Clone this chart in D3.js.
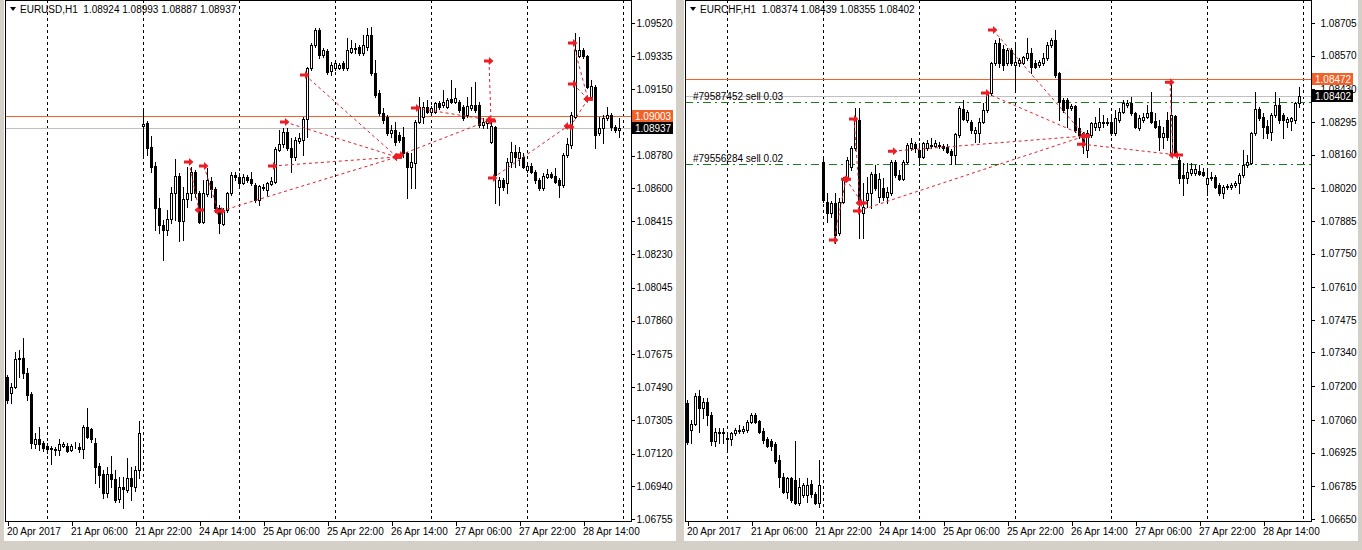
<!DOCTYPE html>
<html><head><meta charset="utf-8">
<script src="https://cdn.jsdelivr.net/npm/d3@7/dist/d3.min.js"></script>
<style>
html,body{margin:0;padding:0;background:#d4d0c8;overflow:hidden;}
svg{display:block;font-family:"Liberation Sans",Arial,sans-serif;}
</style></head><body>
<svg id="c" width="1362" height="550"></svg>
<script>
// ---------- data ----------
const timeLabels = ["20 Apr 2017","21 Apr 06:00","21 Apr 22:00","24 Apr 14:00","25 Apr 06:00","25 Apr 22:00","26 Apr 14:00","27 Apr 06:00","27 Apr 22:00","28 Apr 14:00"];
const timeLabelBars = [0,16,32,48,64,80,96,112,128,144];
const daySeparatorBars = [10,34,58,82,106,130,154];

const eurusdTicks = ["1.09520","1.09335","1.09150","1.08965","1.08780","1.08600","1.08415","1.08230","1.08045","1.07860","1.07675","1.07490","1.07305","1.07120","1.06940","1.06755"];
const eurchfTicks = ["1.08705","1.08570","1.08430","1.08295","1.08160","1.08020","1.07885","1.07750","1.07610","1.07475","1.07340","1.07200","1.07060","1.06925","1.06785","1.06650"];

// OHLC per hourly bar
const eurusdBars = [
[1.07546,1.07557,1.07401,1.07418],[1.07457,1.07513,1.07401,1.07491],[1.07491,1.07686,1.07485,1.07647],[1.07647,1.07697,1.07546,1.07652],
[1.07652,1.07764,1.07541,1.07569],[1.07569,1.07596,1.07418,1.07446],[1.07451,1.07463,1.07150,1.07178],[1.07173,1.07234,1.07150,1.07201],
[1.07201,1.07268,1.07139,1.07173],[1.07178,1.07189,1.07134,1.07150],[1.07162,1.07178,1.07123,1.07145],[1.07150,1.07162,1.07061,1.07145],
[1.07145,1.07156,1.07111,1.07139],[1.07139,1.07201,1.07111,1.07173],[1.07162,1.07184,1.07156,1.07173],[1.07162,1.07178,1.07128,1.07134],
[1.07139,1.07173,1.07134,1.07162],[1.07156,1.07184,1.07150,1.07158],[1.07156,1.07178,1.07128,1.07145],[1.07145,1.07279,1.07095,1.07268],
[1.07268,1.07373,1.07206,1.07212],[1.07256,1.07262,1.07184,1.07201],[1.07178,1.07206,1.06955,1.07044],[1.07050,1.07067,1.06933,1.07000],
[1.07005,1.07028,1.06872,1.06900],[1.06900,1.07044,1.06877,1.07005],[1.07005,1.07106,1.06933,1.06978],[1.06978,1.07028,1.06849,1.06861],
[1.06866,1.06989,1.06849,1.06933],[1.06933,1.06989,1.06816,1.06922],[1.06916,1.07095,1.06905,1.06983],[1.06983,1.07044,1.06861,1.06939],
[1.06933,1.07050,1.06911,1.07028],[1.07028,1.07301,1.06983,1.07234],
[1.08946,1.09040,1.08784,1.08957],[1.08962,1.08973,1.08784,1.08823],[1.08828,1.08890,1.08689,1.08717],[1.08723,1.08745,1.08366,1.08488],
[1.08488,1.08544,1.08349,1.08394],[1.08394,1.08422,1.08199,1.08366],[1.08366,1.08477,1.08338,1.08427],[1.08427,1.08605,1.08405,1.08572],
[1.08572,1.08762,1.08422,1.08667],[1.08667,1.08684,1.08304,1.08416],[1.08416,1.08605,1.08310,1.08539],[1.08539,1.08717,1.08494,1.08572],
[1.08572,1.08717,1.08533,1.08689],[1.08689,1.08700,1.08550,1.08572],[1.08572,1.08583,1.08405,1.08410],[1.08410,1.08645,1.08405,1.08572],
[1.08566,1.08711,1.08555,1.08645],[1.08639,1.08661,1.08550,1.08594],[1.08594,1.08605,1.08466,1.08488],[1.08488,1.08505,1.08349,1.08405],
[1.08399,1.08488,1.08394,1.08477],[1.08477,1.08578,1.08466,1.08572],[1.08572,1.08689,1.08561,1.08672],[1.08672,1.08689,1.08645,1.08661],
[1.08661,1.08684,1.08617,1.08628],[1.08628,1.08678,1.08622,1.08661],[1.08661,1.08672,1.08633,1.08645],[1.08650,1.08689,1.08617,1.08628],
[1.08617,1.08628,1.08522,1.08533],[1.08533,1.08617,1.08505,1.08611],[1.08605,1.08622,1.08589,1.08600],[1.08589,1.08633,1.08561,1.08628],
[1.08622,1.08661,1.08617,1.08639],[1.08633,1.08828,1.08628,1.08817],[1.08812,1.08923,1.08806,1.08845],[1.08845,1.08934,1.08828,1.08912],
[1.08912,1.08934,1.08812,1.08823],[1.08823,1.08879,1.08689,1.08773],[1.08773,1.08884,1.08756,1.08868],[1.08862,1.08907,1.08851,1.08879],
[1.08868,1.08996,1.08784,1.08985],[1.08985,1.09275,1.08884,1.09269],[1.09269,1.09408,1.09258,1.09397],[1.09397,1.09492,1.09386,1.09481],
[1.09481,1.09492,1.09325,1.09341],[1.09341,1.09380,1.09330,1.09369],[1.09364,1.09375,1.09235,1.09247],[1.09252,1.09302,1.09230,1.09286],
[1.09269,1.09302,1.09258,1.09297],[1.09269,1.09297,1.09263,1.09286],[1.09297,1.09308,1.09258,1.09269],[1.09269,1.09436,1.09258,1.09369],
[1.09358,1.09425,1.09353,1.09380],[1.09380,1.09408,1.09353,1.09375],[1.09386,1.09397,1.09341,1.09353],[1.09353,1.09453,1.09341,1.09397],
[1.09386,1.09492,1.09369,1.09453],[1.09453,1.09497,1.09230,1.09241],[1.09241,1.09314,1.09107,1.09118],[1.09130,1.09146,1.09007,1.09018],
[1.09018,1.09046,1.08962,1.08979],[1.08996,1.09007,1.08895,1.08907],[1.08907,1.08951,1.08884,1.08923],[1.08923,1.08968,1.08840,1.08856],
[1.08895,1.08912,1.08856,1.08868],[1.08884,1.08940,1.08773,1.08795],[1.08795,1.08801,1.08544,1.08717],[1.08717,1.08795,1.08600,1.08745],
[1.08739,1.08979,1.08600,1.08968],[1.08968,1.09107,1.08962,1.09051],[1.08996,1.09079,1.08962,1.09051],[1.09051,1.09091,1.09018,1.09024],
[1.09024,1.09057,1.09018,1.09046],[1.09024,1.09079,1.09018,1.09074],[1.09074,1.09085,1.09040,1.09051],[1.09063,1.09146,1.09051,1.09079],
[1.09051,1.09102,1.09046,1.09091],[1.09096,1.09202,1.09074,1.09079],[1.09079,1.09157,1.09074,1.09102],[1.09079,1.09091,1.09024,1.09035],
[1.09051,1.09063,1.08979,1.08990],[1.09007,1.09107,1.08996,1.09057],[1.09046,1.09163,1.09035,1.09063],[1.09063,1.09191,1.09024,1.09035],
[1.09063,1.09079,1.08940,1.08951],[1.08951,1.08990,1.08934,1.08968],[1.08962,1.08985,1.08934,1.08979],[1.08856,1.08979,1.08851,1.08946],
[1.08940,1.08946,1.08516,1.08672],[1.08605,1.08661,1.08505,1.08645],[1.08645,1.08656,1.08589,1.08605],[1.08628,1.08767,1.08572,1.08745],
[1.08745,1.08856,1.08717,1.08801],[1.08801,1.08840,1.08717,1.08773],[1.08767,1.08828,1.08728,1.08801],[1.08773,1.08795,1.08711,1.08717],
[1.08700,1.08739,1.08689,1.08723],[1.08723,1.08739,1.08684,1.08689],[1.08689,1.08700,1.08628,1.08645],[1.08645,1.08656,1.08589,1.08600],
[1.08600,1.08684,1.08589,1.08667],[1.08661,1.08706,1.08656,1.08678],[1.08678,1.08689,1.08656,1.08661],[1.08667,1.08711,1.08628,1.08633],
[1.08645,1.08656,1.08550,1.08617],[1.08617,1.08795,1.08605,1.08784],[1.08784,1.08879,1.08773,1.08845],[1.08840,1.09024,1.08823,1.09007],
[1.08996,1.09464,1.08990,1.09369],[1.09336,1.09442,1.09330,1.09369],[1.09369,1.09380,1.09325,1.09336],[1.09336,1.09341,1.09157,1.09163],
[1.09107,1.09202,1.09102,1.09169],[1.09163,1.09174,1.08823,1.08895],[1.08907,1.08996,1.08895,1.08934],[1.08934,1.09007,1.08851,1.08990],
[1.08990,1.09051,1.08979,1.09007],[1.09007,1.09018,1.08923,1.08940],[1.08940,1.08951,1.08912,1.08923],[1.08924,1.08993,1.08887,1.08937]
];

const eurchfBars = [
[1.07130,1.07143,1.06961,1.06969],[1.07019,1.07060,1.06965,1.07043],[1.07043,1.07172,1.07039,1.07159],[1.07159,1.07184,1.07010,1.07110],
[1.07110,1.07151,1.07068,1.07135],[1.07135,1.07151,1.07039,1.07081],[1.07081,1.07093,1.06956,1.06973],[1.06973,1.07027,1.06952,1.07010],
[1.07006,1.07027,1.06965,1.07010],[1.07010,1.07027,1.06965,1.07006],[1.06985,1.07006,1.06940,1.06981],[1.06981,1.07010,1.06956,1.07006],
[1.07006,1.07027,1.06998,1.07019],[1.07019,1.07039,1.07006,1.07014],[1.07014,1.07035,1.07006,1.07023],[1.07019,1.07060,1.07010,1.07052],
[1.07052,1.07089,1.07048,1.07081],[1.07081,1.07089,1.07048,1.07052],[1.07056,1.07060,1.07006,1.07010],[1.07014,1.07027,1.06965,1.06977],
[1.06981,1.06990,1.06948,1.06952],[1.06973,1.06981,1.06936,1.06952],[1.06961,1.06969,1.06882,1.06890],[1.06894,1.06915,1.06782,1.06824],
[1.06824,1.06840,1.06757,1.06762],[1.06762,1.06824,1.06737,1.06820],[1.06820,1.06824,1.06720,1.06728],[1.06811,1.06973,1.06712,1.06716],
[1.06716,1.06820,1.06708,1.06782],[1.06749,1.06799,1.06741,1.06791],[1.06749,1.06820,1.06720,1.06791],[1.06795,1.06811,1.06741,1.06753],
[1.06753,1.06762,1.06712,1.06716],[1.06716,1.06894,1.06699,1.06791],
[1.08129,1.08150,1.07963,1.07971],[1.07963,1.08000,1.07880,1.07918],[1.07918,1.07967,1.07901,1.07959],[1.07959,1.08000,1.07793,1.07826],
[1.07835,1.07980,1.07826,1.07963],[1.07963,1.08067,1.07959,1.08058],[1.08058,1.08150,1.08054,1.08137],[1.08108,1.08195,1.08096,1.08187],
[1.08187,1.08353,1.08179,1.08311],[1.08303,1.08353,1.07814,1.07959],[1.07918,1.08042,1.07814,1.07942],[1.07971,1.08067,1.07942,1.08000],
[1.08000,1.08087,1.07938,1.08079],[1.08079,1.08116,1.08013,1.08021],[1.07984,1.08083,1.07963,1.08058],[1.08021,1.08063,1.07971,1.07984],
[1.07984,1.08025,1.07959,1.08005],[1.08000,1.08137,1.07992,1.08129],[1.08129,1.08137,1.08067,1.08075],[1.08075,1.08096,1.08054,1.08058],
[1.08058,1.08137,1.08054,1.08129],[1.08129,1.08208,1.08125,1.08199],[1.08187,1.08228,1.08179,1.08208],[1.08203,1.08212,1.08170,1.08187],
[1.08179,1.08208,1.08116,1.08150],[1.08150,1.08212,1.08145,1.08208],[1.08187,1.08220,1.08179,1.08208],[1.08195,1.08228,1.08187,1.08199],
[1.08195,1.08220,1.08191,1.08208],[1.08199,1.08212,1.08187,1.08195],[1.08195,1.08203,1.08179,1.08187],[1.08191,1.08203,1.08166,1.08170],
[1.08174,1.08183,1.08121,1.08158],[1.08158,1.08249,1.08121,1.08245],[1.08241,1.08361,1.08232,1.08353],[1.08348,1.08386,1.08303,1.08307],
[1.08303,1.08344,1.08295,1.08336],[1.08295,1.08303,1.08249,1.08261],[1.08249,1.08274,1.08212,1.08261],[1.08249,1.08311,1.08212,1.08295],
[1.08295,1.08373,1.08290,1.08344],[1.08344,1.08419,1.08336,1.08415],[1.08415,1.08543,1.08406,1.08539],[1.08539,1.08634,1.08531,1.08622],
[1.08622,1.08643,1.08522,1.08539],[1.08597,1.08614,1.08510,1.08531],[1.08539,1.08601,1.08531,1.08593],[1.08593,1.08601,1.08531,1.08539],
[1.08531,1.08614,1.08419,1.08543],[1.08539,1.08560,1.08527,1.08551],[1.08539,1.08568,1.08535,1.08564],[1.08560,1.08643,1.08551,1.08580],
[1.08580,1.08601,1.08498,1.08522],[1.08539,1.08551,1.08518,1.08522],[1.08531,1.08551,1.08522,1.08543],[1.08539,1.08580,1.08531,1.08560],
[1.08560,1.08626,1.08551,1.08614],[1.08614,1.08643,1.08605,1.08634],[1.08634,1.08676,1.08481,1.08489],[1.08498,1.08502,1.08303,1.08377],
[1.08386,1.08394,1.08336,1.08344],[1.08386,1.08394,1.08274,1.08353],[1.08353,1.08369,1.08344,1.08361],[1.08361,1.08365,1.08253,1.08261],
[1.08270,1.08311,1.08228,1.08241],[1.08249,1.08253,1.08166,1.08199],[1.08179,1.08261,1.08150,1.08249],[1.08241,1.08295,1.08232,1.08290],
[1.08274,1.08315,1.08261,1.08290],[1.08274,1.08353,1.08261,1.08295],[1.08295,1.08324,1.08274,1.08290],[1.08290,1.08311,1.08282,1.08295],
[1.08295,1.08315,1.08241,1.08249],[1.08249,1.08344,1.08241,1.08311],[1.08303,1.08353,1.08295,1.08336],[1.08336,1.08386,1.08332,1.08373],
[1.08365,1.08386,1.08357,1.08373],[1.08373,1.08398,1.08324,1.08332],[1.08332,1.08336,1.08270,1.08274],[1.08270,1.08324,1.08261,1.08311],
[1.08303,1.08332,1.08295,1.08315],[1.08315,1.08365,1.08311,1.08332],[1.08336,1.08419,1.08290,1.08295],[1.08299,1.08332,1.08270,1.08274],
[1.08278,1.08303,1.08179,1.08232],[1.08232,1.08274,1.08187,1.08249],[1.08303,1.08336,1.08220,1.08232],[1.08166,1.08469,1.08158,1.08324],
[1.08319,1.08324,1.08158,1.08166],[1.08137,1.08150,1.08042,1.08063],[1.08075,1.08125,1.07992,1.08063],[1.08063,1.08125,1.08042,1.08087],
[1.08083,1.08125,1.08075,1.08100],[1.08083,1.08116,1.08075,1.08100],[1.08092,1.08116,1.08075,1.08079],[1.08087,1.08104,1.08071,1.08075],
[1.08038,1.08104,1.07992,1.08063],[1.08063,1.08087,1.08054,1.08067],[1.08067,1.08075,1.08021,1.08025],[1.08034,1.08042,1.07992,1.08000],
[1.08000,1.08034,1.07980,1.08025],[1.08029,1.08038,1.08017,1.08025],[1.08025,1.08042,1.08017,1.08034],[1.08034,1.08050,1.08025,1.08042],
[1.08042,1.08083,1.08000,1.08075],[1.08075,1.08179,1.08067,1.08116],[1.08116,1.08158,1.08108,1.08129],[1.08125,1.08253,1.08121,1.08249],
[1.08249,1.08419,1.08241,1.08348],[1.08348,1.08357,1.08303,1.08311],[1.08315,1.08332,1.08228,1.08274],[1.08278,1.08303,1.08228,1.08249],
[1.08253,1.08332,1.08220,1.08324],[1.08324,1.08419,1.08315,1.08365],[1.08365,1.08394,1.08290,1.08303],[1.08324,1.08332,1.08228,1.08303],
[1.08295,1.08315,1.08274,1.08307],[1.08299,1.08315,1.08261,1.08311],[1.08303,1.08377,1.08290,1.08373],[1.08374,1.08439,1.08355,1.08402]
];

// closed trades: [openBar, openPrice, closeBar, closePrice]
const eurusdTrades = [
[45.5,1.08745,48,1.08477],[49.25,1.08723,52.75,1.08472],[53.5,1.08472,97.5,1.08773],[66.5,1.08723,97.5,1.08773],
[69.5,1.08968,97.5,1.08773],[74.5,1.09230,97.5,1.08773],[98.25,1.08784,120.75,1.08979],[102.25,1.09046,120.75,1.08979],
[120.5,1.09308,121,1.08974],[121.5,1.08656,140.25,1.08946],[141.5,1.09408,145.25,1.09096],[141.5,1.09180,145.25,1.09096],
[140.75,1.08940,145.25,1.09096]
];
const eurchfTrades = [
[36.75,1.07806,39.75,1.08058],[39.75,1.08058,43.75,1.07959],[41.75,1.08307,43.25,1.07959],[42.75,1.07926,99.5,1.08237],
[51.5,1.08174,99.5,1.08237],[74.75,1.08415,99.5,1.08237],[76.5,1.08676,99.5,1.08237],[98.75,1.08203,122.75,1.08158],
[120.75,1.08460,121.5,1.08158]
];

const eurchfOrderLabels = ["#79587452 sell 0.03","#79556284 sell 0.02"];
const eurchfOrderPrices = [1.08377,1.08121];

const eurusdQuote = {name:"EURUSD,H1", ohlc:["1.08924","1.08993","1.08887","1.08937"], level:1.09003, bid:1.08937};
const eurchfQuote = {name:"EURCHF,H1", ohlc:["1.08374","1.08439","1.08355","1.08402"], level:1.08472, bid:1.08402};

// ---------- drawing ----------
const svg = d3.select("#c");
const FONT = 10;

function panel(cfg){
  const g = svg.append("g");
  g.append("rect").attr("x",cfg.winX).attr("y",0).attr("width",cfg.winW).attr("height",cfg.winH).attr("fill","#fff");

  const n = cfg.bars.length;
  const x = d3.scaleLinear().domain([0,n-1]).range([cfg.firstX, cfg.firstX + 4*(n-1)]);
  const tickVals = cfg.ticks.map(Number);
  const y = d3.scaleLinear().domain([tickVals[tickVals.length-1], tickVals[0]]).range([cfg.yBottom, cfg.yTop]);

  const clipId = "clip"+cfg.id;
  svg.append("clipPath").attr("id",clipId).append("rect")
    .attr("x",cfg.plotL).attr("y",cfg.plotT).attr("width",cfg.plotR-cfg.plotL).attr("height",cfg.plotB-cfg.plotT);
  const pg = g.append("g").attr("clip-path",`url(#${clipId})`);

  // period separators
  pg.selectAll("line.sep").data(daySeparatorBars).join("line")
    .attr("x1",d=>Math.round(x(d))+0.5).attr("x2",d=>Math.round(x(d))+0.5)
    .attr("y1",cfg.plotT).attr("y2",cfg.plotB)
    .attr("stroke","#000").attr("stroke-width",1).attr("stroke-dasharray","3,3")
    .attr("shape-rendering","crispEdges");

  // level line + bid line
  pg.append("line").attr("x1",cfg.plotL).attr("x2",cfg.plotR)
    .attr("y1",Math.round(y(cfg.quote.level))+0.5).attr("y2",Math.round(y(cfg.quote.level))+0.5)
    .attr("stroke","#f0622a").attr("stroke-width",1).attr("shape-rendering","crispEdges");
  pg.append("line").attr("x1",cfg.plotL).attr("x2",cfg.plotR)
    .attr("y1",Math.round(y(cfg.quote.bid))+0.5).attr("y2",Math.round(y(cfg.quote.bid))+0.5)
    .attr("stroke","#c0c0c0").attr("stroke-width",1).attr("shape-rendering","crispEdges");

  // open order lines
  if (cfg.orderPrices){
    cfg.orderPrices.forEach((p,i)=>{
      const yy = Math.round(y(p))+0.5;
      pg.append("line").attr("x1",cfg.plotL).attr("x2",cfg.plotR).attr("y1",yy).attr("y2",yy)
        .attr("stroke","#1e7a1e").attr("stroke-dasharray","8,4,2,4").attr("shape-rendering","crispEdges");
      pg.append("text").attr("x",cfg.plotL+8).attr("y",yy-3).attr("font-size",FONT).attr("fill","#000")
        .text(cfg.orderLabels[i]);
    });
  }

  // candles
  const cg = pg.append("g").attr("shape-rendering","crispEdges");
  cg.selectAll("line.wick").data(cfg.bars).join("line")
    .attr("x1",(d,i)=>Math.round(x(i))+0.5).attr("x2",(d,i)=>Math.round(x(i))+0.5)
    .attr("y1",d=>Math.round(y(d[1]))).attr("y2",d=>Math.round(y(d[2]))+1)
    .attr("stroke","#000");
  cg.selectAll("rect.body").data(cfg.bars).join("rect")
    .attr("x",(d,i)=>Math.round(x(i))-0.5)
    .attr("y",d=>Math.round(y(Math.max(d[0],d[3])))+0.5)
    .attr("width",2)
    .attr("height",d=>Math.max(0,Math.round(y(Math.min(d[0],d[3])))-Math.round(y(Math.max(d[0],d[3])))))
    .attr("fill",d=>d[3]>=d[0]?"#fff":"#000")
    .attr("stroke","#000");

  // trade history
  const tg = pg.append("g");
  tg.selectAll("line.tr").data(cfg.trades).join("line")
    .attr("x1",d=>x(d[0])).attr("y1",d=>y(d[1])).attr("x2",d=>x(d[2])).attr("y2",d=>y(d[3]))
    .attr("stroke","#e0202a").attr("stroke-width",1).attr("stroke-dasharray","3,3");
  const arrowR = "M-5,-1.5L0,-1.5L0,-4L4.5,0L0,4L0,1.5L-5,1.5Z";
  const arrowL = "M5,-1.5L0,-1.5L0,-4L-4.5,0L0,4L0,1.5L5,1.5Z";
  tg.selectAll("path.op").data(cfg.trades).join("path")
    .attr("d",arrowR).attr("fill","#ee1c24")
    .attr("transform",d=>`translate(${x(d[0])},${y(d[1])})`);
  tg.selectAll("path.cl").data(cfg.trades).join("path")
    .attr("d",arrowL).attr("fill","#ee1c24")
    .attr("transform",d=>`translate(${x(d[2])},${y(d[3])})`);

  // frame
  g.append("rect").attr("x",cfg.plotL+0.5).attr("y",cfg.plotT+0.5)
    .attr("width",cfg.plotR-cfg.plotL-1).attr("height",cfg.plotB-cfg.plotT-1)
    .attr("fill","none").attr("stroke","#000").attr("shape-rendering","crispEdges");

  // price boxes (positions used to hide fully covered tick labels)
  const boxes = [{p:cfg.quote.level, fill:"#f0622a"},{p:cfg.quote.bid, fill:"#000"}];
  const boxYs = boxes.map(b=>Math.round(y(b.p)));
  const covered = v => {
    const c = y(v); let vis = 0;
    for (let t=c-5; t<c+5; t+=0.5){ if (!boxYs.some(b=>t>=b-6 && t<=b+6)) vis+=0.5; }
    return vis < 3;
  };

  // y axis
  const ya = d3.axisRight(y).tickValues(tickVals).tickFormat((d,i)=>cfg.ticks[i]).tickSize(3).tickPadding(2+cfg.labelShift);
  const yg = g.append("g").attr("transform",`translate(${cfg.plotR-0.5},0)`).call(ya);
  yg.select(".domain").remove();
  yg.selectAll("text").attr("font-size",FONT).attr("font-family","Liberation Sans, Arial, sans-serif").attr("fill","#000");
  yg.selectAll(".tick").filter(d=>covered(d)).select("text").remove();
  yg.selectAll("line").attr("stroke","#000").attr("shape-rendering","crispEdges");

  // x axis
  const xa = d3.axisBottom(x).tickValues(timeLabelBars).tickFormat((d,i)=>timeLabels[i]).tickSize(4).tickPadding(2);
  const xg = g.append("g").attr("transform",`translate(0.5,${cfg.plotB-0.5})`).call(xa);
  xg.select(".domain").remove();
  xg.selectAll("text").attr("font-size",FONT).attr("font-family","Liberation Sans, Arial, sans-serif")
    .attr("text-anchor","start").attr("dx",-1).attr("fill","#000");
  xg.selectAll("line").attr("stroke","#000").attr("shape-rendering","crispEdges");

  boxes.forEach((b,i)=>{
    const yy = boxYs[i];
    g.append("rect").attr("x",cfg.plotR).attr("y",yy-6).attr("width",cfg.boxW).attr("height",12).attr("fill",b.fill);
    g.append("text").attr("x",cfg.plotR+3).attr("y",yy+3.5).attr("font-size",FONT).attr("fill","#fff")
      .text(d3.format(".5f")(b.p));
  });

  // header
  g.append("path").attr("d",`M${cfg.plotL+5},7L${cfg.plotL+11},7L${cfg.plotL+8},11Z`).attr("fill","#000");
  g.append("text").attr("x",cfg.plotL+15).attr("y",13).attr("font-size",FONT).attr("fill","#000")
    .style("white-space","pre")
    .text(cfg.quote.name+"  "+cfg.quote.ohlc.join(" "));
}

panel({id:"L", winX:4, winW:672, winH:541, firstX:7, plotL:5, plotR:632, plotT:0, plotB:522, yTop:23, yBottom:519,
  labelShift:0, boxW:41, bars:eurusdBars, ticks:eurusdTicks, trades:eurusdTrades, quote:eurusdQuote});
panel({id:"R", winX:684, winW:674, winH:541, firstX:687, plotL:685, plotR:1312, plotT:0, plotB:522, yTop:23, yBottom:519,
  labelShift:4, boxW:41, bars:eurchfBars, ticks:eurchfTicks, trades:eurchfTrades, quote:eurchfQuote,
  orderPrices:eurchfOrderPrices, orderLabels:eurchfOrderLabels});
</script>
</body></html>
